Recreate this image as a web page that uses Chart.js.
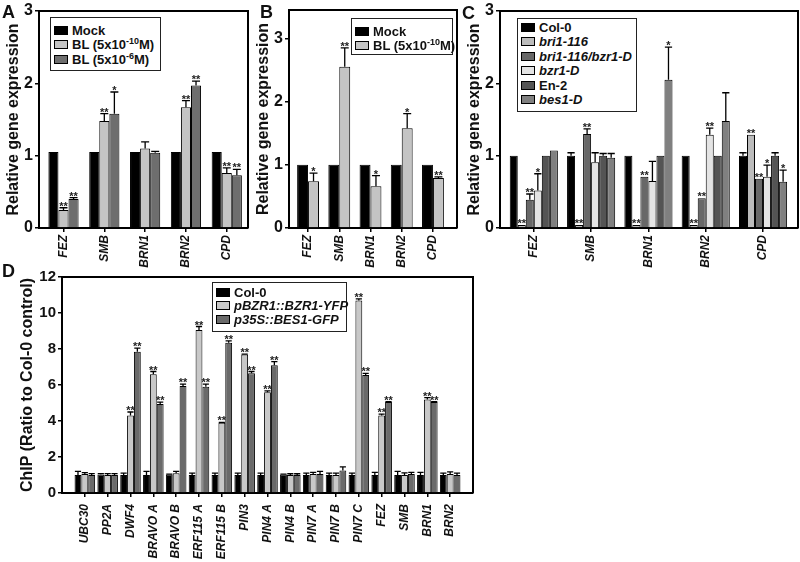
<!DOCTYPE html>
<html><head><meta charset="utf-8">
<script src="https://cdn.jsdelivr.net/npm/chart.js@4.4.1/dist/chart.umd.min.js"></script>
<style>
html,body{margin:0;padding:0;background:#fff;}
body{width:800px;height:562px;position:relative;overflow:hidden;font-family:"Liberation Sans",Arial,Helvetica,sans-serif;}
canvas{position:absolute;}
.letter{position:absolute;font-weight:bold;font-size:18px;line-height:17px;color:#111;}
.legend{position:absolute;border:1.5px solid #222;background:#fff;box-sizing:border-box;}
.legend .item{position:absolute;left:3px;white-space:nowrap;font-weight:bold;font-size:13px;line-height:14px;height:14px;color:#111;}
.legend .sw{display:inline-block;width:14px;height:9px;border:1px solid #000;box-sizing:border-box;margin-right:4px;vertical-align:-0px;}
.legend sup{font-size:9px;line-height:0;vertical-align:5px;}
.legend .it{font-style:italic;}
</style></head>
<body>
<canvas id="cA"></canvas>
<canvas id="cB"></canvas>
<canvas id="cC"></canvas>
<canvas id="cD"></canvas>
<div class="letter" style="left:2px;top:4px">A</div>
<div class="letter" style="left:260px;top:4px">B</div>
<div class="letter" style="left:462px;top:5px">C</div>
<div class="letter" style="left:2px;top:263px">D</div>
<script>
// ---------- data ----------
const genesABC = ['FEZ','SMB','BRN1','BRN2','CPD'];

// Panel A
const seriesA = ['Mock','BL (5x10-10M)','BL (5x10-6M)'];
const legendA = ['Mock','BL (5x10<sup>-10</sup>M)','BL (5x10<sup>-6</sup>M)'];
const mockA = [1.05,1.05,1.05,1.05,1.05];
const mockAErr = [0,0,0,0,0];
const bl10A = [0.25,1.48,1.10,1.67,0.76];
const bl10AErr = [0.03,0.10,0.09,0.09,0.07];
const bl10AStars = ['**','**','','**','**'];
const bl6A = [0.40,1.58,1.04,1.97,0.73];
const bl6AErr = [0.02,0.30,0.02,0.06,0.08];
const bl6AStars = ['**','*','','**','**'];

// Panel B
const seriesB = ['Mock','BL (5x10-10M)'];
const legendB = ['Mock','BL (5x10<sup>-10</sup>M)'];
const mockB = [1.0,1.0,1.0,1.0,1.0];
const mockBErr = [0,0,0,0,0];
const blB = [0.74,2.55,0.66,1.58,0.79];
const blBErr = [0.13,0.30,0.17,0.23,0.02];
const blBStars = ['*','**','*','*','**'];

// Panel C
const seriesC = ['Col-0','bri1-116','bri1-116/bzr1-D','bzr1-D','En-2','bes1-D'];
const italicC = [false,true,true,true,false,true];
const col0C = [1.0,1.0,1.0,1.0,1.0];
const col0CErr = [0,0.04,0,0,0.04];
const bri1C = [0.04,0.04,0.04,0.04,1.29];
const bri1CErr = [0,0,0,0,0];
const bri1CStars = ['**','**','**','**','**'];
const bri1bzrC = [0.39,1.30,0.71,0.41,0.68];
const bri1bzrCErr = [0.08,0.07,0,0,0];
const bri1bzrCStars = ['**','**','**','**','**'];
const bzrC = [0.52,0.91,0.65,1.29,0.71];
const bzrCErr = [0.23,0.13,0.27,0.09,0.16];
const bzrCStars = ['*','','','**','*'];
const en2C = [1.0,1.0,1.0,1.0,1.0];
const en2CErr = [0,0.03,0,0,0.04];
const bes1C = [1.07,0.97,2.05,1.48,0.64];
const bes1CErr = [0,0.06,0.45,0.39,0.16];
const bes1CStars = ['','','*','','*'];

// Panel D
const genesD = ['UBC30','PP2A','DWF4','BRAVO A','BRAVO B','ERF115 A','ERF115 B','PIN3','PIN4 A','PIN4 B','PIN7 A','PIN7 B','PIN7 C','FEZ','SMB','BRN1','BRN2'];
const seriesD = ['Col-0','pBZR1::BZR1-YFP','p35S::BES1-GFP'];
const italicD = [false,true,true];
const col0D = [1.0,1.03,1.0,1.0,1.03,1.0,1.0,1.0,1.0,1.03,1.0,1.0,1.0,1.0,1.0,1.0,1.0];
const col0DErr = [0.2,0.05,0.1,0.2,0.02,0.1,0.1,0.1,0.1,0.02,0.1,0.1,0.1,0.15,0.2,0.15,0.1];
const yfpD = [1.05,1.0,4.3,6.6,1.1,9.05,3.9,7.7,5.6,1.0,1.05,1.0,10.7,4.3,1.0,5.2,1.05];
const yfpDErr = [0.08,0.08,0.2,0.15,0.1,0.2,0.02,0.02,0.07,0.07,0.1,0.1,0.08,0.08,0.12,0.1,0.12];
const yfpDStars = ['','','**','**','','**','**','**','**','','','','**','**','','**',''];
const gfpD = [1.0,1.0,7.85,4.95,5.95,5.9,8.35,6.65,7.1,1.0,1.05,1.25,6.55,5.05,1.05,5.05,1.0];
const gfpDErr = [0.08,0.08,0.2,0.1,0.1,0.15,0.1,0.1,0.2,0.07,0.15,0.2,0.1,0.02,0.1,0.02,0.1];
const gfpDStars = ['','','**','**','**','**','**','**','**','','','','**','**','','**',''];

// ---------- drawing ----------
const FONT = '"Liberation Sans", Arial, Helvetica, sans-serif';

const extras = {
  id: 'extras',
  afterDatasetsDraw(chart) {
    const ctx = chart.ctx, ys = chart.scales.y;
    ctx.save();
    chart.data.datasets.forEach((ds, di) => {
      const meta = chart.getDatasetMeta(di);
      meta.data.forEach((bar, i) => {
        const v = ds.data[i].y;
        const e = (ds.errors || [])[i] || 0;
        let top = bar.y;
        if (e > 0) {
          const yE = ys.getPixelForValue(v + e);
          const cw = Math.min(bar.width * 0.45, 4);
          ctx.strokeStyle = '#000';
          ctx.lineWidth = 1.3;
          ctx.beginPath();
          ctx.moveTo(bar.x, bar.y); ctx.lineTo(bar.x, yE);
          ctx.moveTo(bar.x - cw, yE); ctx.lineTo(bar.x + cw, yE);
          ctx.stroke();
          top = yE;
        }
        const s = (ds.stars || [])[i];
        if (s) {
          ctx.fillStyle = '#222';
          ctx.font = 'bold 11px ' + FONT;
          ctx.textAlign = 'center';
          ctx.textBaseline = 'alphabetic';
          ctx.fillText(s, bar.x, top + 2);
        }
      });
    });
    const a = chart.chartArea;
    ctx.strokeStyle = '#000';
    ctx.lineWidth = 2;
    ctx.beginPath();
    ctx.moveTo(a.left, a.top); ctx.lineTo(a.right, a.top); ctx.lineTo(a.right, a.bottom);
    ctx.stroke();
    ctx.restore();
  }
};

function makePanel(o) {
  const cv = document.getElementById(o.id);
  cv.width = o.rect.width; cv.height = o.rect.height;
  cv.style.left = o.rect.left + 'px'; cv.style.top = o.rect.top + 'px';
  const yW = o.area.left - o.rect.left;
  const xH = o.rect.top + o.rect.height - o.area.bottom;
  const padTop = o.area.top - o.rect.top;
  const padRight = o.rect.left + o.rect.width - o.area.right;
  return new Chart(cv, {
    type: 'bar',
    data: {
      datasets: o.series.map(s => ({
        label: s.label,
        data: s.values.map((v, i) => ({x: i, y: v})),
        errors: s.errors, stars: s.stars,
        backgroundColor: s.color, borderColor: '#000', borderWidth: 1,
        categoryPercentage: o.catPct, barPercentage: 1.0
      }))
    },
    options: {
      responsive: false, animation: false, devicePixelRatio: 1,
      layout: {padding: {left: 0, top: padTop, right: padRight, bottom: 0}},
      plugins: {legend: {display: false}, tooltip: {enabled: false}},
      scales: {
        x: {
          type: 'linear', min: o.xMin, max: o.xMax, offset: false,
          afterBuildTicks: ax => { ax.ticks = o.cats.map((c, i) => ({value: i})); },
          afterFit: ax => { ax.height = xH; ax.paddingLeft = 0; ax.paddingRight = 0; },
          ticks: {
            autoSkip: false, minRotation: 90, maxRotation: 90, padding: o.xTickPad, color: '#111',
            font: {family: FONT, size: 12, weight: 'bold', style: 'italic'},
            callback: v => (o.cats[v] !== undefined ? o.cats[v] : '')
          },
          grid: {display: true, offset: false, drawOnChartArea: false, drawTicks: true, tickLength: 4, color: '#000', lineWidth: 1.5},
          border: {display: true, color: '#000', width: 2}
        },
        y: {
          min: 0, max: o.yMax,
          afterFit: ax => { ax.width = yW; ax.paddingTop = 0; ax.paddingBottom = 0; },
          ticks: {stepSize: o.yStep, includeBounds: false, padding: 2, color: '#111',
                  font: {family: FONT, size: o.yTickSize, weight: 'bold'}},
          grid: {display: true, drawOnChartArea: false, drawTicks: true, tickLength: 4, color: '#000', lineWidth: 1.5},
          border: {display: true, color: '#000', width: 2},
          title: {display: true, text: o.yTitle, color: '#111',
                  font: {family: FONT, size: 16, weight: 'bold'}, padding: {top: o.titlePad, bottom: 0}}
        }
      }
    },
    plugins: [extras]
  });
}

function makeLegend(chart, box, labels, italics) {
  const div = document.createElement('div');
  div.className = 'legend';
  div.style.left = box.left + 'px'; div.style.top = box.top + 'px';
  div.style.width = box.width + 'px'; div.style.height = box.height + 'px';
  chart.data.datasets.forEach((ds, i) => {
    const it = document.createElement('div');
    it.className = 'item';
    it.style.top = (box.rows[i] - 7 - 1.5) + 'px';
    const sw = document.createElement('span');
    sw.className = 'sw';
    sw.style.background = ds.backgroundColor;
    const tx = document.createElement('span');
    if (italics && italics[i]) tx.className = 'it';
    tx.innerHTML = labels[i];
    it.appendChild(sw); it.appendChild(tx);
    div.appendChild(it);
  });
  document.body.appendChild(div);
}

const chartA = makePanel({
  id: 'cA', rect: {left: 0, top: 0, width: 258, height: 275},
  area: {left: 39, top: 11, right: 248, bottom: 228},
  cats: genesABC, xMin: -0.6, xMax: 4.52, yMax: 3, yStep: 1, yTickSize: 16, xTickPad: 3,
  yTitle: 'Relative gene expression', titlePad: 4, catPct: 0.74,
  series: [
    {label: seriesA[0], values: mockA, errors: mockAErr, stars: [], color: '#000000'},
    {label: seriesA[1], values: bl10A, errors: bl10AErr, stars: bl10AStars, color: '#c4c4c4'},
    {label: seriesA[2], values: bl6A, errors: bl6AErr, stars: bl6AStars, color: '#6e6e6e'}
  ]
});
makeLegend(chartA, {left: 50, top: 17, width: 111, height: 54, rows: [14, 28, 43]}, legendA);

const chartB = makePanel({
  id: 'cB', rect: {left: 250, top: 0, width: 215, height: 275},
  area: {left: 289, top: 10, right: 457, bottom: 228},
  cats: genesABC, xMin: -0.61, xMax: 4.77, yMax: 3.45, yStep: 1, yTickSize: 16, xTickPad: 3,
  yTitle: 'Relative gene expression', titlePad: 4, catPct: 0.7,
  series: [
    {label: seriesB[0], values: mockB, errors: mockBErr, stars: [], color: '#000000'},
    {label: seriesB[1], values: blB, errors: blBErr, stars: blBStars, color: '#c4c4c4'}
  ]
});
makeLegend(chartB, {left: 351, top: 18, width: 102, height: 37, rows: [14, 28]}, legendB);

const chartC = makePanel({
  id: 'cC', rect: {left: 461, top: 0, width: 339, height: 275},
  area: {left: 500, top: 11, right: 798, bottom: 228},
  cats: genesABC, xMin: -0.59, xMax: 4.61, yMax: 3, yStep: 1, yTickSize: 16, xTickPad: 3,
  yTitle: 'Relative gene expression', titlePad: 4, catPct: 0.84,
  series: [
    {label: seriesC[0], values: col0C, errors: col0CErr, stars: [], color: '#000000'},
    {label: seriesC[1], values: bri1C, errors: bri1CErr, stars: bri1CStars, color: '#bcbcbc'},
    {label: seriesC[2], values: bri1bzrC, errors: bri1bzrCErr, stars: bri1bzrCStars, color: '#686868'},
    {label: seriesC[3], values: bzrC, errors: bzrCErr, stars: bzrCStars, color: '#e4e4e4'},
    {label: seriesC[4], values: en2C, errors: en2CErr, stars: [], color: '#545454'},
    {label: seriesC[5], values: bes1C, errors: bes1CErr, stars: bes1CStars, color: '#808080'}
  ]
});
makeLegend(chartC, {left: 517, top: 18, width: 120, height: 94, rows: [10, 24.5, 39, 53.5, 68, 82]}, seriesC, italicC);

const chartD = makePanel({
  id: 'cD', rect: {left: 0, top: 262, width: 480, height: 300},
  area: {left: 62, top: 277, right: 473, bottom: 493},
  cats: genesD, xMin: -1, xMax: 17, yMax: 12, yStep: 2, yTickSize: 15, xTickPad: 7,
  yTitle: 'ChIP (Ratio to Col-0 control)', titlePad: 18, catPct: 0.9,
  series: [
    {label: seriesD[0], values: col0D, errors: col0DErr, stars: [], color: '#000000'},
    {label: seriesD[1], values: yfpD, errors: yfpDErr, stars: yfpDStars, color: '#c8c8c8'},
    {label: seriesD[2], values: gfpD, errors: gfpDErr, stars: gfpDStars, color: '#6a6a6a'}
  ]
});
makeLegend(chartD, {left: 212, top: 282, width: 135, height: 50, rows: [11, 24.5, 38]}, seriesD, italicD);
</script>
</body></html>
